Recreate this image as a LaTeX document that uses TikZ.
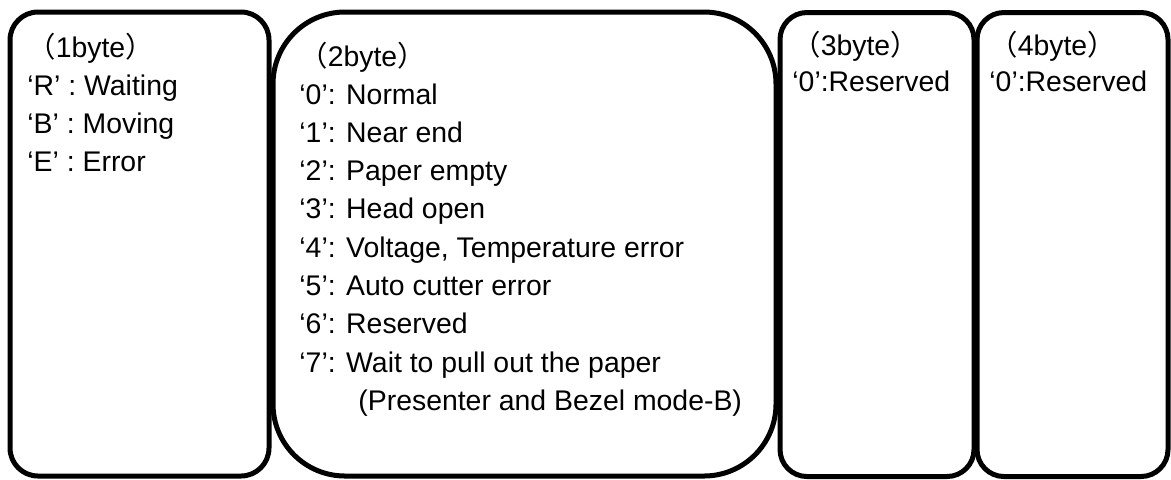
\documentclass[tikz,border=0pt]{standalone}
\usepackage{fontspec}
\setmainfont{Liberation Sans}
\newfontfamily\cjkfont{Noto Sans CJK JP}
\usetikzlibrary{positioning}
\newcommand{\jlp}{{\cjkfont （}}
\newcommand{\jrp}{{\cjkfont ）}}
\tikzset{
  bytebox/.style={draw=black, line width=2.5pt, inner sep=0pt},
  item/.style={anchor=base west, inner sep=0pt, font=\fontsize{14.2pt}{19pt}\selectfont}
}
\begin{document}
\begin{tikzpicture}[x=0.5pt, y=-0.5pt]
\useasboundingbox (0,0) rectangle (1171,479);
% frames
\node[bytebox, rounded corners=14pt, minimum width=129.5pt, minimum height=232pt] (byte1) at (139.5,244) {};
\node[bytebox, rounded corners=36pt, minimum width=251.5pt, minimum height=232pt] (byte2) at (524.5,244) {};
\node[bytebox, rounded corners=13.5pt, minimum width=97pt, minimum height=232pt] (byte3) at (877,244.5) {};
\node[bytebox, rounded corners=13.5pt, minimum width=95.5pt, minimum height=232pt] (byte4) at (1072.5,244.5) {};
% 1st byte
\foreach \txt [count=\i] in {{\jlp 1byte\jrp}, ‘R’ : Waiting, ‘B’ : Moving, ‘E’ : Error}
  \node[item] (b1t\i) at (27,19+38*\i) {\txt};
% 2nd byte
\node[item] (b2head) at (299,66) {\jlp 2byte\jrp};
\foreach \txt [count=\i from 0] in {‘0’: Normal, ‘1’: Near end, ‘2’: Paper empty, ‘3’: Head open,
    {‘4’: Voltage, Temperature error}, ‘5’: Auto cutter error, ‘6’: Reserved, ‘7’: Wait to pull out the paper}
  \node[item] (b2t\i) at (299,104+38.3*\i) {\txt};
\node[item] (b2note) at (358,410) {(Presenter and Bezel mode-B)};
% 3rd and 4th byte
\node[item] (b3head) at (792,55) {\jlp 3byte\jrp};
\node[item] (b3t0) at (792,91) {‘0’:Reserved};
\node[item] (b4head) at (989,55) {\jlp 4byte\jrp};
\node[item] (b4t0) at (989,91) {‘0’:Reserved};
\end{tikzpicture}
\end{document}
